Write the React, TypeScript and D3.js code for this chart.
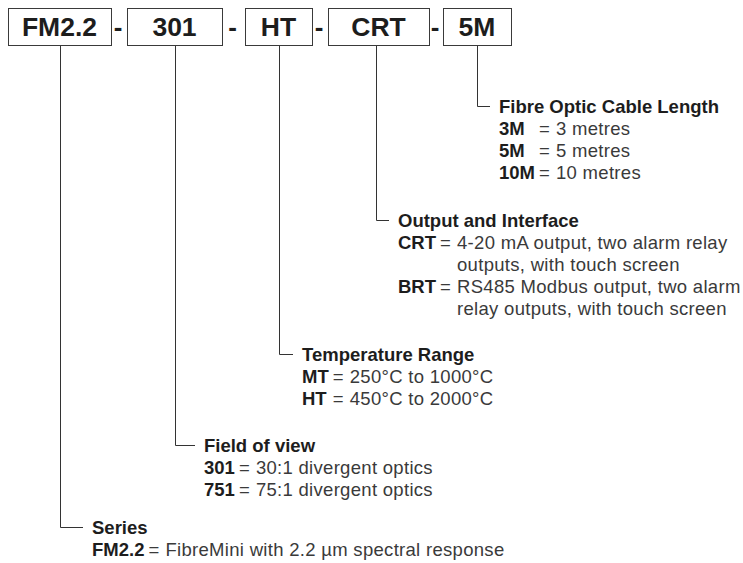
import React, { useEffect, useRef } from "react";
import * as d3 from "d3";

const width = 743;
const height = 563;

// order code parts, left to right
const codes = ["FM2.2", "301", "HT", "CRT", "5M"];

// one branch per code part, same order as codes
const headings = ["Series", "Field of view", "Temperature Range", "Output and Interface", "Fibre Optic Cable Length"];
const seriesRows = [["FM2.2", "FibreMini with 2.2 µm spectral response"]];
const fovRows = [["301", "30:1 divergent optics"], ["751", "75:1 divergent optics"]];
const tempRows = [["MT", "250°C to 1000°C"], ["HT", "450°C to 2000°C"]];
const outputRows = [
  ["CRT", "4-20 mA output, two alarm relay", "outputs, with touch screen"],
  ["BRT", "RS485 Modbus output, two alarm", "relay outputs, with touch screen"],
];
const lengthRows = [["3M", "3 metres"], ["5M", "5 metres"], ["10M", "10 metres"]];
const branchRows = [seriesRows, fovRows, tempRows, outputRows, lengthRows];

// layout
const boxX = [8, 127, 245, 328, 443];
const boxW = [103, 95, 67, 101, 68];
const stemShift = [0, 0, 0, -3, 0];
const boxTop = 8;
const boxH = 37;
const headY = [534, 452, 361, 227, 113];
const textX = [92, 204, 302, 398, 499];
const lineH = 22;
const font = "'Liberation Sans', Arial, Helvetica, sans-serif";
const fs = 18.5;

export default function App() {
  const ref = useRef<SVGSVGElement>(null);

  useEffect(() => {
    const svg = d3.select(ref.current);
    svg.selectAll("*").remove();
    const g = svg.append("g").attr("font-family", font);

    // code boxes
    const boxes = g.selectAll("g.box").data(codes).join("g").attr("class", "box");
    boxes.append("rect")
      .attr("x", (d, i) => boxX[i] + 0.5)
      .attr("y", boxTop + 0.5)
      .attr("width", (d, i) => boxW[i])
      .attr("height", boxH)
      .attr("fill", "#fff")
      .attr("stroke", "#3a3a3a")
      .attr("stroke-width", 1);
    boxes.append("text")
      .attr("x", (d, i) => boxX[i] + boxW[i] / 2)
      .attr("y", boxTop + boxH / 2 + 9.5)
      .attr("text-anchor", "middle")
      .attr("font-size", 26.5)
      .attr("font-weight", "bold")
      .attr("fill", "#1d1d1d")
      .text(d => d);

    // dashes between boxes
    g.selectAll("text.dash").data(d3.range(codes.length - 1)).join("text")
      .attr("class", "dash")
      .attr("x", i => (boxX[i] + boxW[i] + boxX[i + 1]) / 2 - 1)
      .attr("y", boxTop + boxH / 2 + 9.5)
      .attr("text-anchor", "middle")
      .attr("font-size", 26)
      .attr("font-weight", "bold")
      .attr("fill", "#1d1d1d")
      .text("-");

    // branches
    codes.forEach((c, i) => {
      const cx = Math.round(boxX[i] + boxW[i] / 2 + stemShift[i]) + 0.5;
      const cornerY = headY[i] - 6.5;
      g.append("path")
        .attr("d", `M${cx},${boxTop + boxH + 1}V${cornerY}H${textX[i] - 9}`)
        .attr("fill", "none")
        .attr("stroke", "#333")
        .attr("stroke-width", 1);

      g.append("text")
        .attr("x", textX[i])
        .attr("y", headY[i])
        .attr("font-size", fs)
        .attr("font-weight", "bold")
        .attr("fill", "#1d1d1d")
        .text(headings[i]);

      const rows = branchRows[i];
      const labels = rows.map(r =>
        g.append("text")
          .attr("x", textX[i])
          .attr("font-size", fs)
          .attr("font-weight", "bold")
          .attr("fill", "#1d1d1d")
          .text(r[0])
      );
      const maxW = d3.max(labels, t => (t.node() as SVGTextElement).getComputedTextLength()) || 0;
      const eqX = textX[i] + maxW + 4;
      const valX = eqX + 17;

      let line = 1;
      rows.forEach((r, k) => {
        const y = headY[i] + line * lineH;
        labels[k].attr("y", y);
        g.append("text")
          .attr("x", eqX)
          .attr("y", y)
          .attr("font-size", fs)
          .attr("fill", "#3a3a3a")
          .text("=");
        r.slice(1).forEach((txt, j) => {
          g.append("text")
            .attr("x", valX)
            .attr("y", headY[i] + (line + j) * lineH)
            .attr("font-size", fs)
            .attr("letter-spacing", 0.3)
            .attr("fill", "#3a3a3a")
            .text(txt);
        });
        line += r.length - 1;
      });
    });
  }, []);

  return (
    <svg
      ref={ref}
      width={width}
      height={height}
      style={{ position: "absolute", left: 0, top: 0, background: "#fff" }}
    />
  );
}
